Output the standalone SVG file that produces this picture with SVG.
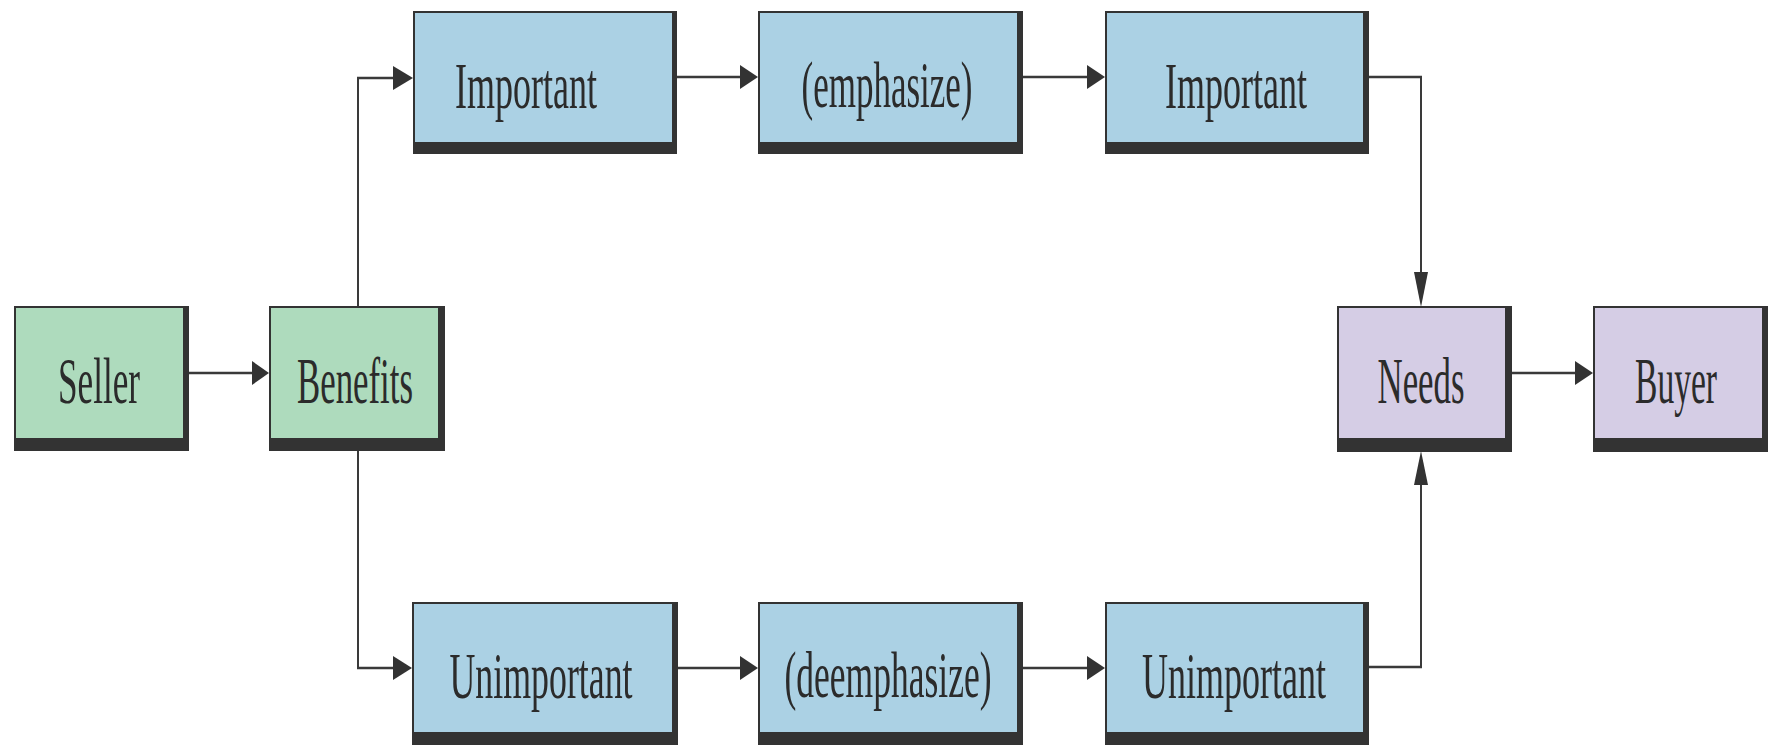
<svg xmlns="http://www.w3.org/2000/svg" width="1773" height="745" viewBox="0 0 1773 745">
<style>
.sh{fill:#333333}
.g{fill:#aedbbd}
.b{fill:#abd1e4}
.p{fill:#d5cde5}
.t{font-family:"Liberation Serif","Times New Roman",serif;font-size:40px;fill:#2b2b2b;text-anchor:middle}
.c{fill:none;stroke:#3a3a3a;stroke-width:2.5}
.v{fill:none;stroke:#3a3a3a;stroke-width:2}
.ah{fill:#333333}
</style>
<rect width="1773" height="745" fill="#ffffff"/>
<g id="connectors">
<path class="c" d="M189,373 H255"/>
<polygon class="ah" points="269,373 252,361 252,385"/>
<path class="v" d="M358,306 V78"/>
<path class="c" d="M357,78 H398"/>
<polygon class="ah" points="413,78 393,66 393,90"/>
<path class="v" d="M358,451 V668"/>
<path class="c" d="M357,668 H398"/>
<polygon class="ah" points="412,668 393,656 393,680"/>
<path class="c" d="M677,77 H742"/>
<polygon class="ah" points="758,77 740,65 740,89"/>
<path class="c" d="M1023,77 H1090"/>
<polygon class="ah" points="1105,77 1087,65 1087,89"/>
<path class="c" d="M678,668 H742"/>
<polygon class="ah" points="758,668 740,656 740,680"/>
<path class="c" d="M1023,668 H1090"/>
<polygon class="ah" points="1105,668 1087,656 1087,680"/>
<path class="c" d="M1369,77 H1422"/>
<path class="v" d="M1421,76 V280"/>
<polygon class="ah" points="1421,307 1414,272 1428,272"/>
<path class="c" d="M1369,667 H1422"/>
<path class="v" d="M1421,668 V475"/>
<polygon class="ah" points="1421,451 1414,485 1428,485"/>
<path class="c" d="M1512,373 H1578"/>
<polygon class="ah" points="1593,373 1575,361 1575,385"/>
</g>
<g id="seller">
<rect class="sh" x="14" y="306" width="175" height="145"/>
<rect class="g" x="16" y="308" width="167" height="130"/>
<text class="t" transform="translate(99,403) scale(1,1.65)" x="0" y="0" textLength="82" lengthAdjust="spacingAndGlyphs">Seller</text>
</g>
<g id="benefits">
<rect class="sh" x="269" y="306" width="176" height="145"/>
<rect class="g" x="271" y="308" width="167" height="130"/>
<text class="t" transform="translate(355,403) scale(1,1.65)" x="0" y="0" textLength="116" lengthAdjust="spacingAndGlyphs">Benefits</text>
</g>
<g id="needs">
<rect class="sh" x="1337" y="306" width="175" height="146"/>
<rect class="p" x="1339" y="308" width="166" height="130"/>
<text class="t" transform="translate(1421,403) scale(1,1.65)" x="0" y="0" textLength="87" lengthAdjust="spacingAndGlyphs">Needs</text>
</g>
<g id="buyer">
<rect class="sh" x="1593" y="306" width="175" height="146"/>
<rect class="p" x="1595" y="308" width="167" height="130"/>
<text class="t" transform="translate(1676,403) scale(1,1.65)" x="0" y="0" textLength="82" lengthAdjust="spacingAndGlyphs">Buyer</text>
</g>
<g id="important1">
<rect class="sh" x="413" y="11" width="264" height="143"/>
<rect class="b" x="415" y="13" width="257" height="129"/>
<text class="t" transform="translate(526,108) scale(1,1.65)" x="0" y="0" textLength="142" lengthAdjust="spacingAndGlyphs">Important</text>
</g>
<g id="emphasize">
<rect class="sh" x="758" y="11" width="265" height="143"/>
<rect class="b" x="760" y="13" width="257" height="129"/>
<text class="t" transform="translate(887,107) scale(1,1.65)" x="0" y="0" textLength="171" lengthAdjust="spacingAndGlyphs">(emphasize)</text>
</g>
<g id="important2">
<rect class="sh" x="1105" y="11" width="264" height="143"/>
<rect class="b" x="1107" y="13" width="256" height="129"/>
<text class="t" transform="translate(1236,108) scale(1,1.65)" x="0" y="0" textLength="142" lengthAdjust="spacingAndGlyphs">Important</text>
</g>
<g id="unimportant1">
<rect class="sh" x="412" y="602" width="266" height="143"/>
<rect class="b" x="414" y="604" width="258" height="128"/>
<text class="t" transform="translate(541,698) scale(1,1.65)" x="0" y="0" textLength="183" lengthAdjust="spacingAndGlyphs">Unimportant</text>
</g>
<g id="deemphasize">
<rect class="sh" x="758" y="602" width="265" height="143"/>
<rect class="b" x="760" y="604" width="257" height="128"/>
<text class="t" transform="translate(888,697) scale(1,1.65)" x="0" y="0" textLength="207" lengthAdjust="spacingAndGlyphs">(deemphasize)</text>
</g>
<g id="unimportant2">
<rect class="sh" x="1105" y="602" width="264" height="143"/>
<rect class="b" x="1107" y="604" width="256" height="128"/>
<text class="t" transform="translate(1234,698) scale(1,1.65)" x="0" y="0" textLength="184" lengthAdjust="spacingAndGlyphs">Unimportant</text>
</g>
</svg>
